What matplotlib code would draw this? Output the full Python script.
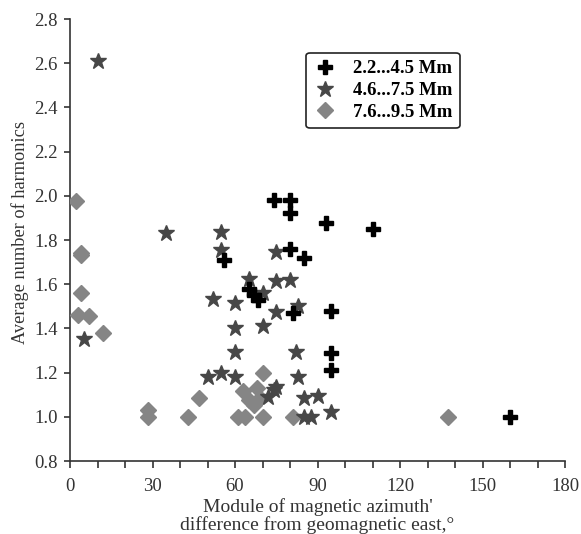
import matplotlib
matplotlib.use("Agg")
import matplotlib.pyplot as plt

# 2.2...4.5 Mm
x_small = [74, 80, 80, 93, 110, 56, 80, 85, 65, 67, 68.5, 81, 95, 95, 95, 160]
y_small = [1.98, 1.98, 1.92, 1.875, 1.85, 1.71, 1.76, 1.72, 1.58, 1.55, 1.53,
           1.47, 1.48, 1.29, 1.21, 1.0]

# 4.6...7.5 Mm
x_mid = [10, 35, 55, 55, 75, 5, 52, 60, 65, 70, 75, 80, 75, 83, 60, 70, 60, 82,
         50, 55, 60, 83, 72, 74, 75, 85, 90, 95, 85, 87.5]
y_mid = [2.61, 1.83, 1.835, 1.755, 1.745, 1.35, 1.535, 1.515, 1.625, 1.56, 1.615,
         1.62, 1.475, 1.50, 1.40, 1.41, 1.295, 1.295, 1.18, 1.20, 1.18, 1.18,
         1.09, 1.12, 1.135, 1.085, 1.095, 1.02, 1.0, 1.0]

# 7.6...9.5 Mm
x_large = [2, 4, 4, 4, 3, 7, 12, 28.5, 28.5, 43, 47, 61, 63.5, 70, 81, 70,
           63, 68, 65, 67, 69, 137.5]
y_large = [1.975, 1.74, 1.73, 1.56, 1.46, 1.455, 1.38, 1.03, 1.0, 1.0, 1.085,
           1.0, 1.0, 1.0, 1.0, 1.2, 1.115, 1.13, 1.075, 1.055, 1.085, 1.0]

plt.rcParams['font.family'] = ['Liberation Serif', 'DejaVu Serif']

fig = plt.figure(figsize=(5.81, 5.34), dpi=100)
ax = fig.add_axes([0.1205, 0.1367, 0.852, 0.8277])

ax.plot(x_large, y_large, linestyle='none', marker='D', markersize=8.5,
        color='#858585', markeredgecolor='#858585', label='7.6...9.5 Mm', zorder=3)
ax.plot(x_mid, y_mid, linestyle='none', marker='*', markersize=12,
        color='#474747', markeredgecolor='#474747', label='4.6...7.5 Mm', zorder=4)
ax.plot(x_small, y_small, linestyle='none', marker='P', markersize=10,
        color='black', markeredgecolor='black', label='2.2...4.5 Mm', zorder=5)

ax.set_xlim(0, 180)
ax.set_ylim(0.8, 2.8)
ax.set_xticks(range(0, 181, 30))
ax.set_xticks(range(0, 181, 10), minor=True)
ax.set_yticks([0.8, 1.0, 1.2, 1.4, 1.6, 1.8, 2.0, 2.2, 2.4, 2.6, 2.8])
ax.set_yticklabels([f"{v:.1f}" for v in ax.get_yticks()])

for side in ['top', 'right']:
    ax.spines[side].set_visible(False)
for side in ['left', 'bottom']:
    ax.spines[side].set_color('#333333')
    ax.spines[side].set_linewidth(1.2)

ax.tick_params(axis='both', which='both', direction='out', color='#333333',
               width=1.2, labelsize=13.5, labelcolor='#333333')
ax.tick_params(axis='x', which='both', length=5, pad=7)
ax.tick_params(axis='y', length=4, pad=5)

ax.set_ylabel("Average number of harmonics", fontsize=13.2, color='#333333')
ax.yaxis.set_label_coords(-0.082, 0.516)
ax.set_xlabel("Module of magnetic azimuth'\ndifference from geomagnetic east,\u00b0",
              fontsize=14, color='#333333', linespacing=0.95)
ax.xaxis.set_label_coords(0.5, -0.085)

handles, labels = ax.get_legend_handles_labels()
leg = ax.legend(handles[::-1], labels[::-1], loc='upper left',
                bbox_to_anchor=(0.458, 0.945), frameon=True, fancybox=True,
                edgecolor='#222222', framealpha=1, borderpad=0.4,
                labelspacing=0.25, handletextpad=0.9, handlelength=1.2,
                prop={'weight': 'bold', 'size': 13.5})
leg.get_frame().set_linewidth(1.2)

fig.savefig("out.png", dpi=100, facecolor='white')
